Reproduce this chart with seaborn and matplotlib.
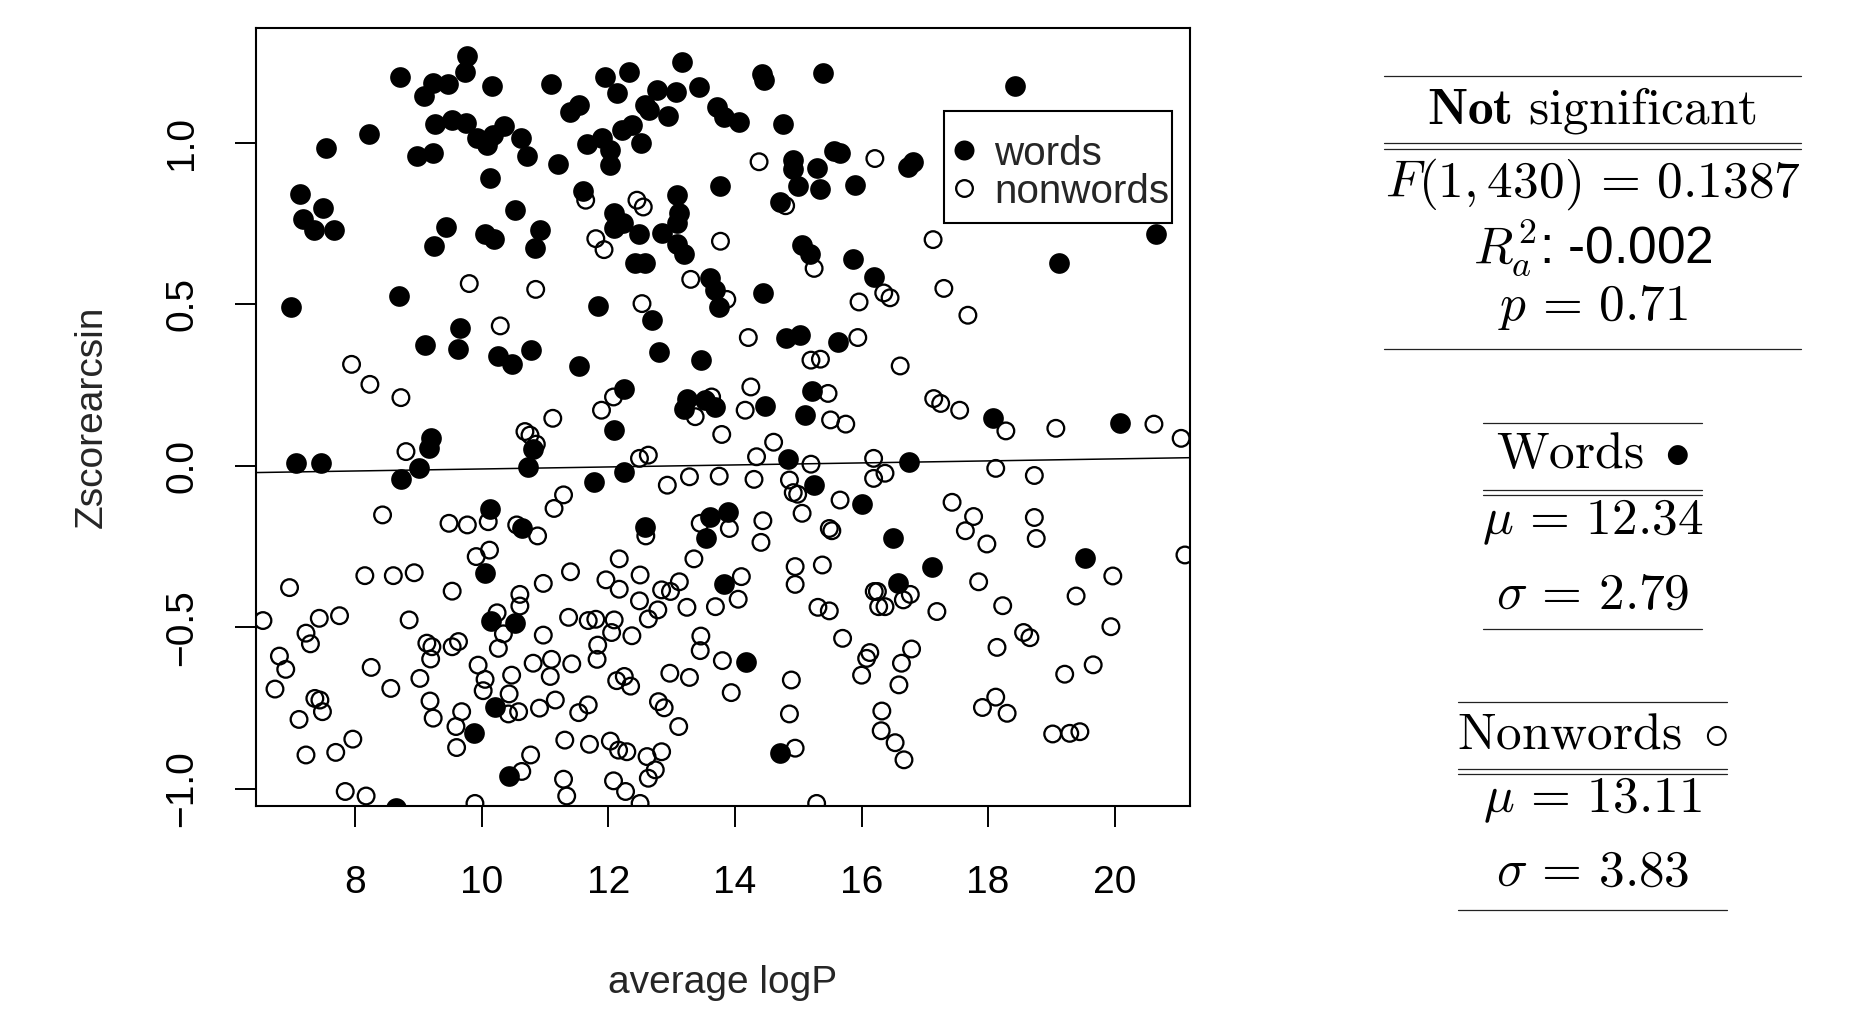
import numpy as np
import pandas as pd
import matplotlib
matplotlib.use("Agg")
import matplotlib.pyplot as plt
import seaborn as sns
from matplotlib.lines import Line2D
from matplotlib.patches import Rectangle

# ---------------- data ----------------
words_x = [9.77, 9.74, 8.70, 9.22, 9.47, 9.09, 10.16, 11.09, 9.26, 9.52, 9.75, 9.92, 10.08, 10.18, 10.35,
           10.61, 10.72, 11.21, 8.21, 7.53, 8.97, 9.23, 10.13, 7.13, 7.49, 7.18, 7.35, 7.66, 10.53, 9.44,
           9.24, 10.05, 10.19, 10.92, 10.84, 6.98, 8.69, 9.66, 9.10, 9.63, 10.25, 10.47, 10.77,
           13.16, 12.33, 11.95, 12.14, 12.76, 13.06, 13.43, 14.42, 14.46, 15.39, 11.39, 11.53, 12.58, 12.64,
           12.94, 13.71, 13.83, 14.06, 14.76, 11.66, 11.89, 12.02, 12.02, 12.21, 12.37, 12.51, 14.91, 14.91,
           15.30, 15.57, 15.66, 13.76, 14.99, 15.35, 15.89, 11.60, 14.71, 13.09, 12.08, 12.23, 12.08, 12.48,
           12.85, 13.12, 13.09, 13.08, 13.19, 12.42, 12.58, 15.06, 15.18, 15.87, 13.61, 13.69, 13.75, 14.44,
           11.83, 12.69, 12.80, 13.46, 11.53, 14.81, 15.02, 15.62, 12.25, 13.24, 13.19, 13.53, 13.69, 14.47,
           15.22, 15.10,
           18.43, 16.74, 16.82, 20.66, 19.12, 16.19,
           7.06, 7.46, 8.72, 9.01, 9.17, 9.20, 10.73, 10.81, 10.13, 10.64, 10.05, 10.15, 10.52, 10.20, 9.87,
           10.43, 8.65,
           12.08, 11.77, 12.24, 14.83, 15.25, 16.01, 12.58, 13.61, 13.89, 13.54, 13.83, 14.17, 14.71,
           18.08, 20.09, 16.75, 16.49, 17.12, 16.57, 19.53]
words_y = [1.268, 1.219, 1.202, 1.185, 1.183, 1.144, 1.175, 1.183, 1.059, 1.070, 1.061, 1.013, 0.992, 1.023, 1.051,
           1.016, 0.958, 0.933, 1.026, 0.984, 0.958, 0.968, 0.892, 0.841, 0.798, 0.765, 0.729, 0.729, 0.793, 0.739,
           0.680, 0.716, 0.703, 0.729, 0.673, 0.492, 0.525, 0.425, 0.373, 0.361, 0.340, 0.314, 0.358,
           1.250, 1.219, 1.202, 1.154, 1.162, 1.157, 1.173, 1.214, 1.195, 1.216, 1.095, 1.116, 1.116, 1.100,
           1.082, 1.109, 1.080, 1.064, 1.059, 0.997, 1.013, 0.977, 0.930, 1.039, 1.054, 1.000, 0.946, 0.920,
           0.922, 0.974, 0.968, 0.866, 0.865, 0.858, 0.870, 0.851, 0.817, 0.837, 0.781, 0.750, 0.735, 0.717,
           0.719, 0.781, 0.750, 0.686, 0.657, 0.629, 0.629, 0.683, 0.654, 0.639, 0.580, 0.544, 0.492, 0.535,
           0.494, 0.451, 0.351, 0.327, 0.309, 0.394, 0.406, 0.384, 0.237, 0.208, 0.177, 0.203, 0.183, 0.185,
           0.231, 0.157,
           1.176, 0.925, 0.941, 0.717, 0.628, 0.585,
           0.010, 0.010, -0.042, -0.008, 0.054, 0.085, -0.003, 0.051, -0.135, -0.194, -0.333, -0.479, -0.488,
           -0.745, -0.828, -0.960, -1.060,
           0.111, -0.049, -0.018, 0.020, -0.060, -0.119, -0.188, -0.157, -0.142, -0.222, -0.367, -0.606, -0.890,
           0.147, 0.131, 0.013, -0.222, -0.312, -0.364, -0.284]

nonwords_x = [9.80, 10.85, 10.29, 7.94, 8.23, 8.72,
              14.38, 11.64, 12.45, 12.55, 11.80, 11.93, 13.77, 15.25, 13.30, 13.87, 12.53, 15.96, 14.21, 15.94,
              15.20, 15.35, 14.25, 15.47, 12.08, 11.89, 13.63, 14.16, 14.80,
              16.21, 17.13, 16.35, 16.45, 17.30, 17.68, 16.61, 17.14, 17.25, 17.55,
              8.80, 10.68, 10.76, 10.86, 11.12, 11.29, 11.14, 8.43, 9.48, 9.77, 10.10, 10.55, 10.88, 10.12, 9.91,
              8.15, 8.60, 8.93, 9.53, 6.96, 10.97, 6.54, 7.43, 7.75, 8.85, 7.22, 7.29, 6.80, 6.90, 6.73, 9.13,
              9.21, 9.19, 9.53, 9.63, 10.24, 10.34, 10.26, 10.60, 10.60, 10.97, 10.81, 11.10, 11.08, 8.25, 9.02,
              8.56, 9.94, 10.05, 10.02, 10.47, 10.43, 10.58, 10.42, 10.91, 11.16, 9.18, 9.23, 9.68, 9.59, 9.60,
              7.36, 7.44, 7.48, 7.11, 7.96, 7.22, 7.69, 7.84, 8.17, 10.77, 10.63, 11.29, 11.34, 9.89,
              13.37, 15.51, 15.75, 13.79, 14.61, 12.49, 12.63, 14.34, 15.20, 16.19, 16.19, 12.93, 13.28, 13.75,
              14.30, 14.86, 14.92, 14.99, 15.66, 15.06, 15.49, 15.53, 13.45, 13.91, 12.59, 14.44, 14.41, 12.17,
              13.35, 11.40, 11.96, 12.17, 12.50, 12.49, 12.84, 12.98, 13.12, 14.10, 14.05, 13.69, 13.24, 12.78,
              12.63, 11.37, 11.68, 11.80, 12.09, 12.05, 12.37, 11.83, 11.82, 11.42, 13.46, 13.45, 13.80, 14.95,
              14.95, 15.38, 15.31, 15.49, 15.70, 16.20, 16.27, 16.13, 16.08, 16.00, 12.97, 13.28, 12.13, 12.25,
              12.35, 13.94, 14.89, 14.86, 14.95, 11.53, 11.68, 12.79, 12.88, 13.11, 11.31, 11.70, 12.03, 12.16,
              12.29, 12.61, 12.84, 12.74, 12.63, 12.08, 12.27, 12.50, 15.29,
              18.28, 19.07, 20.62, 21.05, 16.37, 18.12, 18.73, 17.43, 17.77, 17.64, 17.98, 18.73, 18.76, 21.11,
              16.25, 16.37, 16.66, 16.77, 17.19, 17.85, 18.23, 19.97, 19.39, 19.94, 18.56, 18.66, 18.14, 19.66,
              19.21, 16.79, 16.63, 16.59, 16.32, 16.31, 16.53, 16.67, 18.12, 17.91, 18.30, 19.02, 19.29, 19.45]
nonwords_y = [0.564, 0.546, 0.433, 0.314, 0.252, 0.211,
              0.941, 0.822, 0.822, 0.801, 0.703, 0.669, 0.695, 0.611, 0.577, 0.515, 0.502, 0.507, 0.397, 0.397,
              0.327, 0.330, 0.244, 0.224, 0.213, 0.172, 0.213, 0.172, 0.805,
              0.951, 0.700, 0.535, 0.520, 0.549, 0.466, 0.309, 0.208, 0.193, 0.172,
              0.044, 0.106, 0.095, 0.067, 0.147, -0.090, -0.132, -0.152, -0.178, -0.183, -0.173, -0.183, -0.217,
              -0.261, -0.281, -0.340, -0.340, -0.331, -0.388, -0.377, -0.364, -0.479, -0.472, -0.464, -0.477,
              -0.518, -0.551, -0.589, -0.630, -0.691, -0.549, -0.560, -0.598, -0.560, -0.544, -0.455, -0.520,
              -0.565, -0.398, -0.434, -0.524, -0.611, -0.599, -0.652, -0.624, -0.658, -0.689, -0.617, -0.661,
              -0.696, -0.648, -0.706, -0.761, -0.768, -0.750, -0.725, -0.728, -0.781, -0.761, -0.807, -0.872,
              -0.720, -0.725, -0.761, -0.785, -0.846, -0.895, -0.887, -1.008, -1.022, -0.895, -0.946, -0.970,
              -1.022, -1.045,
              0.152, 0.142, 0.129, 0.097, 0.073, 0.023, 0.033, 0.028, 0.005, 0.023, -0.039, -0.060, -0.034, -0.032,
              -0.042, -0.044, -0.083, -0.088, -0.106, -0.147, -0.194, -0.201, -0.178, -0.194, -0.217, -0.170,
              -0.237, -0.288, -0.288, -0.328, -0.353, -0.382, -0.338, -0.418, -0.384, -0.389, -0.359, -0.343,
              -0.413, -0.436, -0.438, -0.446, -0.474, -0.469, -0.479, -0.475, -0.477, -0.516, -0.526, -0.555,
              -0.599, -0.613, -0.527, -0.572, -0.603, -0.312, -0.367, -0.307, -0.438, -0.449, -0.534, -0.389,
              -0.436, -0.578, -0.596, -0.648, -0.642, -0.655, -0.665, -0.652, -0.682, -0.702, -0.663, -0.768,
              -0.874, -0.764, -0.740, -0.730, -0.749, -0.807, -0.849, -0.862, -0.852, -0.880, -0.885, -0.900,
              -0.885, -0.941, -0.967, -0.975, -1.008, -1.045, -1.045,
              0.108, 0.116, 0.129, 0.085, -0.023, -0.008, -0.030, -0.113, -0.157, -0.201, -0.242, -0.160, -0.225,
              -0.276, -0.389, -0.436, -0.415, -0.398, -0.451, -0.359, -0.433, -0.341, -0.403, -0.498, -0.516,
              -0.532, -0.562, -0.616, -0.645, -0.567, -0.611, -0.678, -0.759, -0.820, -0.857, -0.910, -0.716,
              -0.748, -0.766, -0.830, -0.828, -0.823]

fit_intercept = -0.041
fit_slope = 0.00312

x_ticks = [8, 10, 12, 14, 16, 18, 20]
y_ticks = [-1.0, -0.5, 0.0, 0.5, 1.0]
x_label = "average logP"
y_label = "Zscorearcsin"
legend_labels = ["words", "nonwords"]

stats_title = r"$\mathbf{Not}\ \mathrm{significant}$"
stats_lines = [r"$F(1, 430) \,=\, 0.1387$", r"$R_a^2$: -0.002", r"$p \,=\, 0.71$"]
words_title = r"$\mathrm{Words}\;\bullet$"
words_stats = [r"$\mu \,=\, 12.34$", r"$\sigma \,=\, 2.79$"]
nonwords_title = r"$\mathrm{Nonwords}\;\circ$"
nonwords_stats = [r"$\mu \,=\, 13.11$", r"$\sigma \,=\, 3.83$"]

# ---------------- style ----------------
sns.set_theme(style="ticks")
plt.rcParams["font.family"] = ["Liberation Sans", "DejaVu Sans"]
plt.rcParams["mathtext.fontset"] = "cm"
plt.rcParams["axes.unicode_minus"] = True

W, H = 1863, 1009
fig = plt.figure(figsize=(W / 100, H / 100), dpi=100)
L, R, T, B = 256, 1190, 28, 805.7
ax = fig.add_axes([L / W, 1 - B / H, (R - L) / W, (B - T) / H])

df_w = pd.DataFrame({"x": words_x, "y": words_y})
df_n = pd.DataFrame({"x": nonwords_x, "y": nonwords_y})

sns.scatterplot(data=df_n, x="x", y="y", ax=ax, s=144, marker="o", color="black", legend=False, zorder=2)
open_coll = ax.collections[-1]
open_coll.set_facecolor("none")
open_coll.set_edgecolor("black")
open_coll.set_linewidth(1.65)

sns.scatterplot(data=df_w, x="x", y="y", ax=ax, s=222, marker="o", color="black", linewidth=0,
                legend=False, zorder=3)

ax.axline((0, fit_intercept), slope=fit_slope, color="black", lw=1.1, zorder=4)

ax.set_xlim(6.43, 21.19)
ax.set_ylim(-1.052, 1.355)
ax.set_xticks(x_ticks)
ax.set_xticklabels([str(t) for t in x_ticks])
ax.set_yticks(y_ticks)
ax.set_yticklabels([f"{t:.1f}".replace("-", "\u2212") for t in y_ticks], rotation=90, va="center")

for sp in ax.spines.values():
    sp.set_visible(True)
    sp.set_color("black")
    sp.set_linewidth(1.5)

ax.tick_params(axis="both", direction="out", length=15, width=1.4, colors="black", labelsize=28)
ax.tick_params(axis="x", pad=28)
ax.tick_params(axis="y", pad=25)

ax.set_xlabel(x_label, fontsize=28)
ax.set_ylabel(y_label, fontsize=28)
ax.xaxis.set_label_coords(0.5, -0.2054)
ax.yaxis.set_label_coords(-0.1568, 0.5)

# legend: R-style box drawn as a frame, legend entries inside it
ax.add_patch(Rectangle((0.7366, 0.7496), 0.2438, 0.1440, transform=ax.transAxes, facecolor="white",
                       edgecolor="black", linewidth=1.5, zorder=4.6))
handles = [Line2D([], [], linestyle="none", marker="o", markersize=14.4, markerfacecolor="black",
                  markeredgecolor="black", markeredgewidth=0),
           Line2D([], [], linestyle="none", marker="o", markersize=12, markerfacecolor="none",
                  markeredgecolor="black", markeredgewidth=1.65)]
leg = ax.legend(handles, legend_labels, loc="upper left", bbox_to_anchor=(0.7475, 0.8629),
                borderaxespad=0, fontsize=29.1, frameon=False, borderpad=0, handlelength=0.5,
                handletextpad=0.49, labelspacing=0.0)
leg.set_zorder(5)

# ---------------- right-hand statistics panel ----------------
cx = 1592.5 / W
fs = 37


def ftext(y_full, s, **kw):
    fig.text(cx, 1 - y_full / H, s, ha="center", va="baseline", fontsize=fs, color="black", **kw)


def hline(y_full, x0, x1, lw=0.9):
    fig.add_artist(Line2D([x0 / W, x1 / W], [1 - y_full / H, 1 - y_full / H], color="#222222", lw=lw,
                          transform=fig.transFigure))


# table 1
hline(76, 1384, 1801)
ftext(123.3, stats_title)
hline(143.5, 1384, 1801)
hline(148.5, 1384, 1801)
ftext(196.7, stats_lines[0])
ftext(263.3, stats_lines[1])
ftext(320, stats_lines[2])
hline(349, 1384, 1801)

# table 2
hline(422.5, 1483, 1702)
ftext(468.3, words_title)
hline(490, 1483, 1702)
hline(495, 1483, 1702)
ftext(534.5, words_stats[0])
ftext(608.3, words_stats[1])
hline(629, 1483, 1702)

# table 3
hline(701.7, 1458, 1727)
ftext(748.3, nonwords_title)
hline(769, 1458, 1727)
hline(774, 1458, 1727)
ftext(812.5, nonwords_stats[0])
ftext(886, nonwords_stats[1])
hline(910, 1458, 1727)

fig.savefig("out.png", dpi=100)
